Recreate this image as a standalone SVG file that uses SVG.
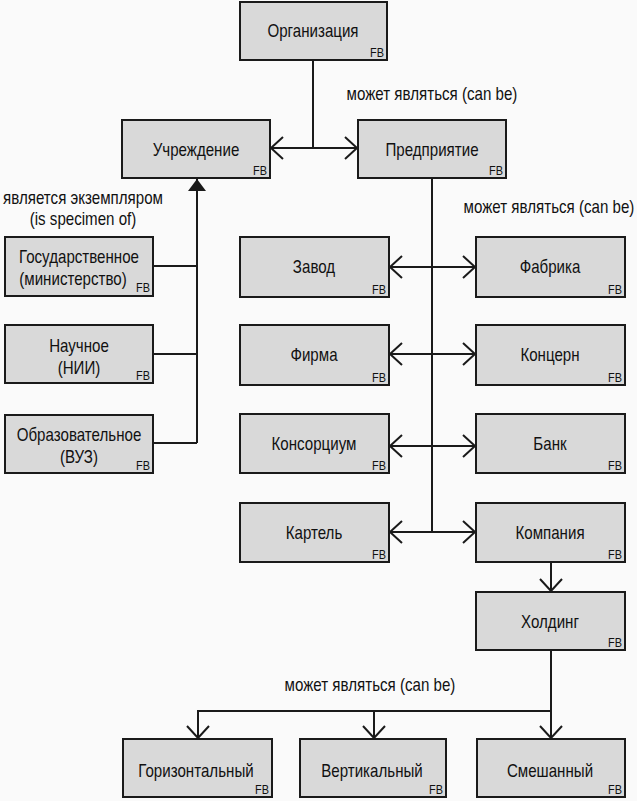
<svg xmlns="http://www.w3.org/2000/svg" width="637" height="801" viewBox="0 0 637 801">
<style>
.box{fill:#d9d9d9;stroke:#1a1a1a;stroke-width:2}
.t{font-family:"Liberation Sans",Arial,sans-serif;font-size:18px;fill:#111;text-anchor:middle}
.fb{font-family:"Liberation Sans",Arial,sans-serif;font-size:13px;fill:#111;text-anchor:end}
.lbl{font-family:"Liberation Sans",Arial,sans-serif;font-size:18px;fill:#111;text-anchor:middle}
.c{fill:none;stroke:#1a1a1a;stroke-width:2}
</style>
<defs>
<marker id="open" markerUnits="userSpaceOnUse" markerWidth="30" markerHeight="30" refX="0" refY="0" viewBox="-15 -15 30 30" orient="auto-start-reverse">
<path d="M-12,-11 L0,0 L-12,11" fill="none" stroke="#1a1a1a" stroke-width="2"/>
</marker>
<marker id="tri" markerUnits="userSpaceOnUse" markerWidth="30" markerHeight="30" refX="0" refY="0" viewBox="-15 -15 30 30" orient="auto">
<path d="M-12,-9 L0,0 L-12,9 Z" fill="#1a1a1a"/>
</marker>
</defs>
<rect width="637" height="801" fill="#fafafa"/>
<g id="connectors">
<path class="c" d="M313,60 V148"/>
<path class="c" d="M271,148 H357" marker-start="url(#open)" marker-end="url(#open)"/>
<path class="c" d="M432,178 V532"/>
<path class="c" d="M390,267 H475" marker-start="url(#open)" marker-end="url(#open)"/>
<path class="c" d="M390,354 H475" marker-start="url(#open)" marker-end="url(#open)"/>
<path class="c" d="M390,446 H475" marker-start="url(#open)" marker-end="url(#open)"/>
<path class="c" d="M390,532 H475" marker-start="url(#open)" marker-end="url(#open)"/>
<path class="c" d="M197,443 V179" marker-end="url(#tri)"/>
<path class="c" d="M153,266 H197"/>
<path class="c" d="M153,354 H197"/>
<path class="c" d="M153,443 H197"/>
<path class="c" d="M551,563 V591" marker-end="url(#open)"/>
<path class="c" d="M551,650 V738" marker-end="url(#open)"/>
<path class="c" d="M551,711 H198 V738" marker-end="url(#open)"/>
<path class="c" d="M374,711 V738" marker-end="url(#open)"/>
</g>
<g id="labels">
<text class="lbl" transform="translate(432,100) scale(0.84,1)">может являться (can be)</text>
<text class="lbl" transform="translate(549,213) scale(0.84,1)">может являться (can be)</text>
<text class="lbl" transform="translate(370,691) scale(0.84,1)">может являться (can be)</text>
<text class="lbl" transform="translate(83,204) scale(0.84,1)">является экземпляром</text>
<text class="lbl" transform="translate(83,225) scale(0.84,1)">(is specimen of)</text>
</g>
<g id="org"><rect class="box" x="240" y="2" width="147" height="58"/><text class="t" transform="translate(313,37) scale(0.84,1)">Организация</text><text class="fb" transform="translate(384,57) scale(0.84,1)">FB</text></g>
<g id="uchr"><rect class="box" x="122" y="120" width="148" height="58"/><text class="t" transform="translate(196,156) scale(0.84,1)">Учреждение</text><text class="fb" transform="translate(267,175) scale(0.84,1)">FB</text></g>
<g id="pred"><rect class="box" x="358" y="120" width="148" height="58"/><text class="t" transform="translate(432,156) scale(0.84,1)">Предприятие</text><text class="fb" transform="translate(503,175) scale(0.84,1)">FB</text></g>
<g id="gos"><rect class="box" x="5" y="237" width="148" height="59"/><text class="t" transform="translate(79,263) scale(0.84,1)">Государственное</text><text class="t" transform="translate(73,285) scale(0.84,1)">(министерство)</text><text class="fb" transform="translate(150,292) scale(0.84,1)">FB</text></g>
<g id="nauch"><rect class="box" x="5" y="325" width="148" height="58"/><text class="t" transform="translate(79,352) scale(0.84,1)">Научное</text><text class="t" transform="translate(79,374) scale(0.84,1)">(НИИ)</text><text class="fb" transform="translate(150,380) scale(0.84,1)">FB</text></g>
<g id="obraz"><rect class="box" x="5" y="415" width="148" height="58"/><text class="t" transform="translate(79,441) scale(0.84,1)">Образовательное</text><text class="t" transform="translate(79,463) scale(0.84,1)">(ВУЗ)</text><text class="fb" transform="translate(150,470) scale(0.84,1)">FB</text></g>
<g id="zavod"><rect class="box" x="240" y="237" width="149" height="60"/><text class="t" transform="translate(314,273) scale(0.84,1)">Завод</text><text class="fb" transform="translate(386,294) scale(0.84,1)">FB</text></g>
<g id="fabrika"><rect class="box" x="476" y="237" width="149" height="60"/><text class="t" transform="translate(550,273) scale(0.84,1)">Фабрика</text><text class="fb" transform="translate(622,294) scale(0.84,1)">FB</text></g>
<g id="firma"><rect class="box" x="240" y="325" width="149" height="60"/><text class="t" transform="translate(314,361) scale(0.84,1)">Фирма</text><text class="fb" transform="translate(386,382) scale(0.84,1)">FB</text></g>
<g id="koncern"><rect class="box" x="476" y="325" width="149" height="60"/><text class="t" transform="translate(550,361) scale(0.84,1)">Концерн</text><text class="fb" transform="translate(622,382) scale(0.84,1)">FB</text></g>
<g id="konsorc"><rect class="box" x="240" y="414" width="149" height="59"/><text class="t" transform="translate(314,450) scale(0.84,1)">Консорциум</text><text class="fb" transform="translate(386,470) scale(0.84,1)">FB</text></g>
<g id="bank"><rect class="box" x="476" y="414" width="149" height="59"/><text class="t" transform="translate(550,450) scale(0.84,1)">Банк</text><text class="fb" transform="translate(622,470) scale(0.84,1)">FB</text></g>
<g id="kartel"><rect class="box" x="240" y="503" width="149" height="59"/><text class="t" transform="translate(314,539) scale(0.84,1)">Картель</text><text class="fb" transform="translate(386,559) scale(0.84,1)">FB</text></g>
<g id="kompan"><rect class="box" x="476" y="503" width="149" height="59"/><text class="t" transform="translate(550,539) scale(0.84,1)">Компания</text><text class="fb" transform="translate(622,559) scale(0.84,1)">FB</text></g>
<g id="holding"><rect class="box" x="476" y="592" width="149" height="58"/><text class="t" transform="translate(550,628) scale(0.84,1)">Холдинг</text><text class="fb" transform="translate(622,647) scale(0.84,1)">FB</text></g>
<g id="gor"><rect class="box" x="123" y="739" width="149" height="58"/><text class="t" transform="translate(196,777) scale(0.84,1)">Горизонтальный</text><text class="fb" transform="translate(269,794) scale(0.84,1)">FB</text></g>
<g id="vert"><rect class="box" x="300" y="739" width="146" height="58"/><text class="t" transform="translate(372,777) scale(0.84,1)">Вертикальный</text><text class="fb" transform="translate(443,794) scale(0.84,1)">FB</text></g>
<g id="smesh"><rect class="box" x="477" y="739" width="148" height="58"/><text class="t" transform="translate(550,777) scale(0.84,1)">Смешанный</text><text class="fb" transform="translate(622,794) scale(0.84,1)">FB</text></g>
</svg>
